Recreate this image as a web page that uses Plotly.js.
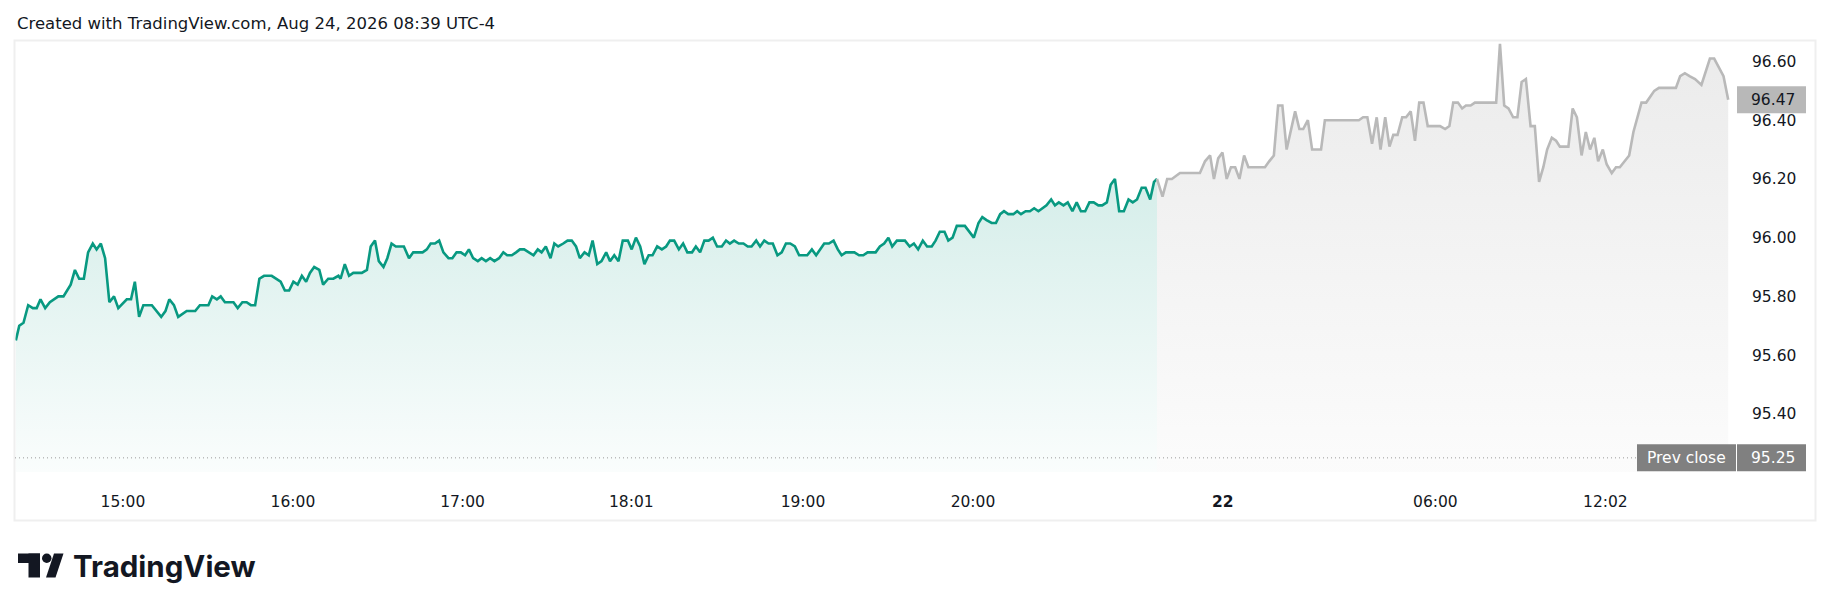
<!DOCTYPE html>
<html>
<head>
<meta charset="utf-8">
<script src="https://cdn.plot.ly/plotly-3.0.1.min.js"></script>
<style>
html,body{margin:0;padding:0;background:#ffffff;}
#chart{width:1830px;height:611px;}
</style>
</head>
<body>
<div id="chart"></div>
<script>
// ---- data (bar index along the time scale, price) ----
const sessionBars = [
0.2,1.0,2.0,3.1,4.2,5.1,6.0,7.1,8.2,10.2,11.4,12.2,13.1,14.1,15.1,16.2,17.2,18.3,19.2,20.2,
21.2,22.2,23.3,24.3,25.5,26.3,27.3,28.2,29.2,30.2,32.2,34.4,35.4,36.3,37.4,38.4,40.4,42.4,43.5,45.5,
46.4,47.5,48.4,49.4,51.4,52.4,53.5,54.5,55.5,56.5,57.5,58.6,60.4,61.4,62.5,63.5,64.5,65.5,66.5,67.5,
68.5,69.4,70.4,71.6,72.5,73.7,74.9,76.1,76.6,77.6,78.6,79.6,81.6,82.8,83.7,84.7,85.6,86.7,87.6,88.6,
89.6,90.6,
91.5,92.7,93.7,95.9,96.9,97.8,98.8,99.8,100.8,102.0,102.9,103.9,104.9,105.9,106.8,107.8,108.9,109.8,110.8,111.8,
112.8,113.9,114.9,115.8,116.9,117.9,118.8,119.8,120.9,122.0,123.0,123.9,124.9,126.0,126.9,127.8,129.0,130.0,131.0,132.0,
132.9,134.0,135.0,135.9,137.0,138.0,139.1,140.0,141.0,142.0,143.0,144.2,145.1,146.1,147.1,148.1,149.1,150.0,151.1,152.2,
153.2,154.1,155.1,156.2,157.2,158.2,159.3,160.2,161.2,162.2,163.2,164.2,165.2,166.3,167.3,168.2,169.2,170.3,171.4,172.4,
173.3,174.4,175.3,176.3,177.3,178.3,179.4,180.4,181.4,182.4,
183.5,184.5,186.4,187.5,188.5,189.5,190.4,191.5,192.6,193.6,194.5,195.5,197.5,198.6,199.6,200.6,202.5,203.5,204.5,205.5,
206.4,207.5,209.4,210.5,211.5,212.5,213.6,214.6,215.7,216.6,217.6,218.7,219.6,220.6,221.6,223.5,224.5,225.6,226.7,227.6,
228.6,229.8,230.8,231.8,232.7,233.7,234.9,235.8,236.7,237.8,238.8,239.8,240.8,241.7,242.7,243.8,244.7,245.6,246.7,247.7,
248.8,249.8,250.8,251.8,252.8,253.8,254.9,255.8,256.9,257.8,258.8,259.8,260.9,262.0,263.0,264.0,265.1,266.0,267.1,268.0,
268.7
];
const sessionPrices = [
95.65,95.70,95.71,95.77,95.76,95.76,95.79,95.76,95.78,95.80,95.80,95.82,95.84,95.89,95.86,95.86,95.95,95.98,95.96,95.98,
95.93,95.78,95.80,95.76,95.78,95.79,95.79,95.85,95.73,95.77,95.77,95.73,95.75,95.79,95.77,95.73,95.75,95.75,95.77,95.77,
95.80,95.79,95.80,95.78,95.78,95.76,95.78,95.78,95.77,95.77,95.86,95.87,95.87,95.86,95.85,95.82,95.82,95.85,95.84,95.87,
95.85,95.88,95.90,95.89,95.84,95.86,95.86,95.87,95.86,95.91,95.87,95.88,95.88,95.89,95.97,95.99,95.92,95.90,95.93,95.98,
95.97,95.97,
95.97,95.93,95.95,95.95,95.96,95.98,95.98,95.99,95.95,95.93,95.93,95.95,95.95,95.94,95.96,95.93,95.92,95.93,95.92,95.93,
95.92,95.93,95.95,95.94,95.94,95.95,95.96,95.96,95.95,95.94,95.96,95.95,95.97,95.93,95.98,95.97,95.98,95.99,95.99,95.97,
95.93,95.95,95.94,95.99,95.91,95.92,95.95,95.92,95.94,95.92,95.99,95.99,95.96,96.00,95.97,95.91,95.94,95.94,95.97,95.96,
95.97,95.99,95.99,95.96,95.98,95.95,95.95,95.97,95.95,95.99,95.99,96.00,95.97,95.97,95.99,95.98,95.99,95.98,95.98,95.97,
95.97,95.99,95.97,95.99,95.98,95.98,95.94,95.95,95.98,95.98,
95.97,95.94,95.94,95.96,95.94,95.96,95.98,95.98,95.99,95.96,95.94,95.95,95.95,95.94,95.94,95.95,95.95,95.97,95.98,96.00,
95.97,95.99,95.99,95.97,95.98,95.96,95.99,95.97,95.97,95.99,96.02,96.02,95.99,96.00,96.04,96.04,96.02,96.00,96.05,96.07,
96.06,96.05,96.05,96.08,96.09,96.08,96.08,96.09,96.08,96.09,96.09,96.10,96.09,96.10,96.11,96.13,96.11,96.12,96.11,96.12,
96.09,96.12,96.09,96.09,96.12,96.12,96.11,96.11,96.12,96.18,96.20,96.09,96.09,96.13,96.12,96.13,96.17,96.17,96.13,96.19,
96.20
];
const extendedBars = [
268.7,270.0,271.1,272.2,274.1,278.8,280.0,281.2,282.1,283.1,284.1,285.1,286.1,287.1,288.1,289.2,290.2,294.1,295.1,296.2,
297.2,298.2,299.2,300.2,301.2,302.2,303.1,304.2,305.2,307.3,308.2,316.2,317.2,318.2,319.3,320.4,321.3,322.4,323.4,324.3,
325.3,326.4,327.3,328.4,329.4,330.4,331.4,332.4,335.3,336.5,337.5,338.4,339.5,340.5,341.4,342.5,343.5,348.5,349.4,350.4,
351.4,352.5,353.5,354.5,355.5,356.6,357.6,358.6,359.6,360.5,361.6,362.6,363.5,365.5,366.5,367.5,368.6,369.6,370.6,371.6,
372.5,373.6,374.5,375.7,376.7,377.6,378.7,379.8,380.8,381.7,382.7,383.8,384.7,385.7,386.8,390.8,391.8,392.9,394.0,395.3,
396.8,398.8,399.8,402.0,403.1
];
const extendedPrices = [
96.20,96.14,96.20,96.20,96.22,96.22,96.26,96.28,96.20,96.27,96.29,96.20,96.24,96.24,96.20,96.28,96.24,96.24,96.26,96.28,
96.45,96.45,96.30,96.37,96.43,96.37,96.37,96.40,96.30,96.30,96.40,96.40,96.41,96.41,96.32,96.41,96.30,96.41,96.31,96.35,
96.35,96.41,96.41,96.43,96.33,96.46,96.46,96.38,96.38,96.37,96.38,96.46,96.46,96.44,96.45,96.45,96.46,96.46,96.66,96.45,
96.44,96.41,96.41,96.53,96.54,96.38,96.38,96.19,96.24,96.30,96.34,96.33,96.31,96.31,96.44,96.41,96.28,96.36,96.30,96.34,
96.26,96.30,96.25,96.22,96.24,96.24,96.26,96.28,96.36,96.41,96.46,96.46,96.48,96.50,96.51,96.51,96.55,96.56,96.55,96.54,
96.52,96.61,96.61,96.55,96.47
];
const timeTickBars = [25.4,65.4,105.3,145.0,185.4,225.4,284.2,334.2,374.2];
const timeTickLabels = ['15:00','16:00','17:00','18:01','19:00','20:00','<b>22</b>','06:00','12:02'];
const priceTicks = [95.40,95.60,95.80,96.00,96.20,96.40,96.60];
const prevClose = 95.25;
const prevCloseLabel = 'Prev close';
const headerText = 'Created with TradingView.com, Aug 24, 2026 08:39 UTC-4';
const brandText = 'TradingView';

// ---- layout helpers (pixels -> paper) ----
const W = 1830, H = 611;
const fx = x => x / W;
const fy = y => 1 - y / H;
const lastPrice = extendedPrices[extendedPrices.length - 1];
const yRange = [95.2018, 96.6698];
const xRange = [0, 404.7];
const ink = '#131722';
const FONT = 'DejaVu Sans, Verdana, sans-serif';

const traces = [
  {
    x: sessionBars, y: sessionPrices, type: 'scatter', mode: 'lines',
    line: {color: '#089981', width: 2.6},
    fill: 'tozeroy',
    fillgradient: {type: 'vertical', start: yRange[0], stop: yRange[1],
      colorscale: [[0, 'rgba(8,153,129,0.02)'], [1, 'rgba(8,153,129,0.24)']]},
    hoverinfo: 'skip'
  },
  {
    x: extendedBars, y: extendedPrices, type: 'scatter', mode: 'lines',
    line: {color: '#b9b9b9', width: 2.6},
    fill: 'tozeroy',
    fillgradient: {type: 'vertical', start: yRange[0], stop: yRange[1],
      colorscale: [[0, 'rgba(120,120,120,0.025)'], [1, 'rgba(120,120,120,0.15)']]},
    hoverinfo: 'skip'
  }
];

const slash = `M ${fx(46)} ${fy(577.5)} L ${fx(55.5)} ${fy(577.5)} L ${fx(63.5)} ${fy(553.5)} L ${fx(54)} ${fy(553.5)} Z`;

const layout = {
  width: W, height: H,
  margin: {l: 0, r: 0, t: 0, b: 0},
  paper_bgcolor: '#ffffff', plot_bgcolor: 'rgba(0,0,0,0)',
  font: {family: FONT, color: ink, size: 15.5},
  showlegend: false,
  xaxis: {
    domain: [fx(15), fx(1735)], range: xRange,
    showgrid: false, zeroline: false, showline: false, ticks: '',
    tickmode: 'array', tickvals: timeTickBars, ticktext: timeTickLabels,
    tickfont: {family: FONT, size: 15.5, color: ink},
    ticklabelstandoff: 18, fixedrange: true
  },
  yaxis: {
    domain: [fy(472), fy(41)], range: yRange, side: 'right',
    showgrid: false, zeroline: false, showline: false, ticks: '',
    tickmode: 'array', tickvals: priceTicks, tickformat: '.2f',
    tickfont: {family: FONT, size: 15.5, color: ink},
    ticklabelstandoff: 16, fixedrange: true
  },
  shapes: [
    {type: 'rect', xref: 'paper', yref: 'paper', x0: fx(14.5), x1: fx(1815.5), y0: fy(520.5), y1: fy(40.5),
     line: {color: '#efefef', width: 2}, fillcolor: 'rgba(0,0,0,0)'},
    {type: 'line', xref: 'paper', yref: 'y', x0: fx(15), x1: fx(1637), y0: prevClose, y1: prevClose,
     line: {color: '#9a9a9a', width: 1, dash: '1px,3px'}},
    {type: 'rect', xref: 'paper', yref: 'y', ysizemode: 'pixel', yanchor: lastPrice, y0: -13.5, y1: 13.5,
     x0: fx(1737), x1: fx(1806), fillcolor: '#b8b8b8', line: {width: 0}},
    {type: 'rect', xref: 'paper', yref: 'y', ysizemode: 'pixel', yanchor: prevClose, y0: -13.5, y1: 13.5,
     x0: fx(1637), x1: fx(1736), fillcolor: '#808080', line: {width: 0}},
    {type: 'rect', xref: 'paper', yref: 'y', ysizemode: 'pixel', yanchor: prevClose, y0: -13.5, y1: 13.5,
     x0: fx(1737), x1: fx(1806), fillcolor: '#808080', line: {width: 0}},
    // TradingView logo mark
    {type: 'rect', xref: 'paper', yref: 'paper', x0: fx(18), x1: fx(40), y0: fy(563), y1: fy(553.5), fillcolor: ink, line: {width: 0}},
    {type: 'rect', xref: 'paper', yref: 'paper', x0: fx(28.5), x1: fx(40), y0: fy(577.5), y1: fy(553.5), fillcolor: ink, line: {width: 0}},
    {type: 'circle', xref: 'paper', yref: 'paper', x0: fx(42), x1: fx(51.5), y0: fy(563), y1: fy(553.5), fillcolor: ink, line: {width: 0}},
    {type: 'path', xref: 'paper', yref: 'paper', path: slash, fillcolor: ink, line: {width: 0}}
  ],
  annotations: [
    {text: headerText, xref: 'paper', yref: 'paper', x: fx(15), y: fy(23.5), xanchor: 'left', yanchor: 'middle',
     showarrow: false, font: {family: FONT, size: 16.5, color: ink}},
    {text: lastPrice.toFixed(2), xref: 'paper', yref: 'y', x: fx(1797), y: lastPrice, xanchor: 'right', yanchor: 'middle',
     showarrow: false, font: {family: FONT, size: 15.5, color: ink}},
    {text: prevCloseLabel, xref: 'paper', yref: 'y', x: fx(1686.5), y: prevClose, xanchor: 'center', yanchor: 'middle',
     showarrow: false, font: {family: FONT, size: 15.5, color: '#ffffff'}},
    {text: prevClose.toFixed(2), xref: 'paper', yref: 'y', x: fx(1797), y: prevClose, xanchor: 'right', yanchor: 'middle',
     showarrow: false, font: {family: FONT, size: 15.5, color: '#ffffff'}},
    {text: brandText, xref: 'paper', yref: 'paper', x: fx(71), y: fy(566), xanchor: 'left', yanchor: 'middle',
     showarrow: false, font: {family: 'Inter, sans-serif', size: 29.5, color: ink, weight: 700}}
  ]
};

Plotly.newPlot('chart', traces, layout, {staticPlot: true, displayModeBar: false});
</script>
</body>
</html>
